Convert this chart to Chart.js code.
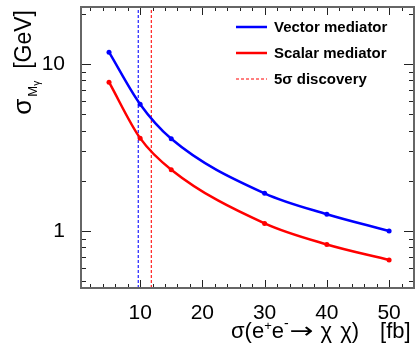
<!DOCTYPE html>
<html>
<head>
<meta charset="utf-8">
<script src="https://cdn.jsdelivr.net/npm/chart.js@4.4.1/dist/chart.umd.min.js"></script>
<style>
  html, body { margin: 0; padding: 0; background: #fff; }
  #wrap { width: 419px; height: 349px; }
</style>
</head>
<body>
<div id="wrap"><canvas id="resChart" width="419" height="349"></canvas></div>
<script>
// cross sections [fb] and mass resolution [GeV]
var xValues = [5, 10, 15, 30, 40, 50];
var vectorValues = [11.8, 5.75, 3.57, 1.68, 1.26, 1.0];
var scalarValues = [7.8, 3.6, 2.33, 1.11, 0.83, 0.67];
// 5 sigma discovery cross sections
var vectorDiscovery = 9.7;
var scalarDiscovery = 11.8;

var seriesLabels = ['Vector mediator', 'Scalar mediator', '5\u03c3 discovery'];
var xTickLabels = [10, 20, 30, 40, 50];
var yTickLabels = [1, 10];
var yMinorTicks = [0.5, 0.6, 0.7, 0.8, 0.9, 2, 3, 4, 5, 6, 7, 8, 9, 20];
var xMinorTicks = [];
for (var t = 2; t <= 54; t += 2) {
    if (t % 10 !== 0) xMinorTicks.push(t);
}

var xMin = 0.5, xMax = 54;
var yMin = 0.455, yMax = 22;

var FONT = '"Liberation Sans", Arial, Helvetica, sans-serif';

function toPoints(xs, ys) {
    return xs.map(function (x, i) { return { x: x, y: ys[i] }; });
}

// frame and inward ticks on all four sides, ROOT style
var frameTicks = {
    id: 'frameTicks',
    afterDatasetsDraw: function (chart) {
        var ctx = chart.ctx, a = chart.chartArea;
        var xs = chart.scales.x, ys = chart.scales.y;
        ctx.save();
        ctx.strokeStyle = '#222';
        ctx.lineWidth = 1;
        function xTick(v, len) {
            var px = Math.round(xs.getPixelForValue(v)) + 0.5;
            ctx.beginPath();
            ctx.moveTo(px, a.bottom); ctx.lineTo(px, a.bottom - len);
            ctx.moveTo(px, a.top); ctx.lineTo(px, a.top + len);
            ctx.stroke();
        }
        function yTick(v, len) {
            var py = Math.round(ys.getPixelForValue(v)) + 0.5;
            ctx.beginPath();
            ctx.moveTo(a.left, py); ctx.lineTo(a.left + len, py);
            ctx.moveTo(a.right, py); ctx.lineTo(a.right - len, py);
            ctx.stroke();
        }
        xMinorTicks.forEach(function (v) { xTick(v, 4); });
        xTickLabels.forEach(function (v) { xTick(v, 8); });
        yMinorTicks.forEach(function (v) { yTick(v, 5); });
        yTickLabels.forEach(function (v) { yTick(v, 10); });
        ctx.strokeStyle = '#666';
        ctx.lineWidth = 2;
        ctx.strokeRect(a.left, a.top, a.right - a.left, a.bottom - a.top);
        ctx.restore();
    }
};

// draws runs of text with sub/superscripts along a baseline
function setRunFont(ctx, r) {
    ctx.font = r.size + 'px ' + (r.family || FONT);
}
function drawRuns(ctx, runs, x, y) {
    runs.forEach(function (r) {
        setRunFont(ctx, r);
        var sx = r.sx || 1;
        ctx.save();
        ctx.translate(x, y + (r.dy || 0));
        ctx.scale(sx, 1);
        ctx.fillText(r.text, 0, 0);
        ctx.restore();
        x += ctx.measureText(r.text).width * sx + (r.gap || 0);
    });
}
function runsWidth(ctx, runs) {
    var w = 0;
    runs.forEach(function (r) {
        setRunFont(ctx, r);
        w += ctx.measureText(r.text).width * (r.sx || 1) + (r.gap || 0);
    });
    return w;
}

var axisTitles = {
    id: 'axisTitles',
    afterDraw: function (chart) {
        var ctx = chart.ctx, a = chart.chartArea;
        ctx.save();
        ctx.fillStyle = '#000';
        ctx.textBaseline = 'alphabetic';
        ctx.textAlign = 'left';

        var xRuns = [
            { text: '\u03c3(e', size: 22 },
            { text: '+', size: 13, dy: -8 },
            { text: 'e', size: 22 },
            { text: '-', size: 14, dy: -10, gap: 1 },
            { text: '\u2192', size: 22, family: '"DejaVu Sans", sans-serif', sx: 1.3, gap: 7 },
            { text: '\u03c7', size: 22, gap: 8 },
            { text: '\u03c7)', size: 22, gap: 21 },
            { text: '[fb]', size: 22 }
        ];
        drawRuns(ctx, xRuns, 231, 338);

        var yRuns = [
            { text: '\u03c3', size: 26, gap: 2 },
            { text: 'M', size: 13, dy: 6 },
            { text: '\u03b3', size: 10, dy: 9, gap: 12 },
            { text: '[GeV]', size: 23 }
        ];
        var wy = runsWidth(ctx, yRuns);
        ctx.translate(31, a.top + 3 + wy);
        ctx.rotate(-Math.PI / 2);
        drawRuns(ctx, yRuns, 0, 0);
        ctx.restore();
    }
};

var legendBox = {
    id: 'legendBox',
    afterDraw: function (chart) {
        var ctx = chart.ctx, a = chart.chartArea;
        var x0 = a.right - 178, tx = a.right - 140;
        var rows = [a.top + 20, a.top + 46, a.top + 72];
        var styles = [
            { color: '#0000ff', width: 2.5, dash: [] },
            { color: '#ff0000', width: 2.5, dash: [] },
            { color: '#ff0000', width: 1, dash: [3, 2] }
        ];
        ctx.save();
        ctx.textBaseline = 'middle';
        ctx.textAlign = 'left';
        ctx.font = 'bold 15px ' + FONT;
        seriesLabels.forEach(function (label, i) {
            var s = styles[i];
            ctx.strokeStyle = s.color;
            ctx.lineWidth = s.width;
            ctx.setLineDash(s.dash);
            ctx.beginPath();
            ctx.moveTo(x0, rows[i]); ctx.lineTo(x0 + 31, rows[i]);
            ctx.stroke();
            ctx.setLineDash([]);
            ctx.fillStyle = '#000';
            ctx.fillText(label, tx, rows[i] + 1);
        });
        ctx.restore();
    }
};

function noScalePadding(s) {
    s.paddingTop = 0;
    s.paddingBottom = 0;
    s.paddingLeft = 0;
    s.paddingRight = 0;
}

var ctx = document.getElementById('resChart').getContext('2d');
new Chart(ctx, {
    type: 'line',
    data: {
        datasets: [
            {
                label: seriesLabels[0],
                data: toPoints(xValues, vectorValues),
                borderColor: '#0000ff',
                backgroundColor: '#0000ff',
                borderWidth: 2.5,
                pointRadius: 2.5,
                pointBorderWidth: 0,
                cubicInterpolationMode: 'monotone'
            },
            {
                label: seriesLabels[1],
                data: toPoints(xValues, scalarValues),
                borderColor: '#ff0000',
                backgroundColor: '#ff0000',
                borderWidth: 2.5,
                pointRadius: 2.5,
                pointBorderWidth: 0,
                cubicInterpolationMode: 'monotone'
            },
            {
                label: 'vector discovery',
                data: [{ x: vectorDiscovery, y: yMin }, { x: vectorDiscovery, y: yMax }],
                borderColor: '#2020ff',
                borderWidth: 1.2,
                borderDash: [3, 2],
                pointRadius: 0
            },
            {
                label: seriesLabels[2],
                data: [{ x: scalarDiscovery, y: yMin }, { x: scalarDiscovery, y: yMax }],
                borderColor: '#ff2020',
                borderWidth: 1.2,
                borderDash: [3, 2],
                pointRadius: 0
            }
        ]
    },
    options: {
        responsive: false,
        animation: false,
        layout: { padding: { top: 7, right: 5, left: 0, bottom: 0 } },
        plugins: {
            legend: { display: false },
            tooltip: { enabled: false }
        },
        scales: {
            x: {
                type: 'linear',
                min: xMin,
                max: xMax,
                grid: { display: false },
                border: { display: false },
                afterFit: function (s) { s.height = 61; noScalePadding(s); },
                afterBuildTicks: function (s) {
                    s.ticks = xTickLabels.map(function (v) { return { value: v }; });
                },
                ticks: {
                    color: '#000',
                    padding: 5,
                    maxRotation: 0,
                    autoSkip: false,
                    font: { family: FONT, size: 21 }
                }
            },
            y: {
                type: 'logarithmic',
                min: yMin,
                max: yMax,
                grid: { display: false },
                border: { display: false },
                afterFit: function (s) { s.width = 81; noScalePadding(s); },
                afterBuildTicks: function (s) {
                    s.ticks = yTickLabels.map(function (v) { return { value: v }; });
                },
                ticks: {
                    color: '#000',
                    padding: 8,
                    autoSkip: false,
                    font: { family: FONT, size: 21 },
                    callback: function (v) { return String(v); }
                }
            }
        }
    },
    plugins: [frameTicks, axisTitles, legendBox]
});
</script>
</body>
</html>
